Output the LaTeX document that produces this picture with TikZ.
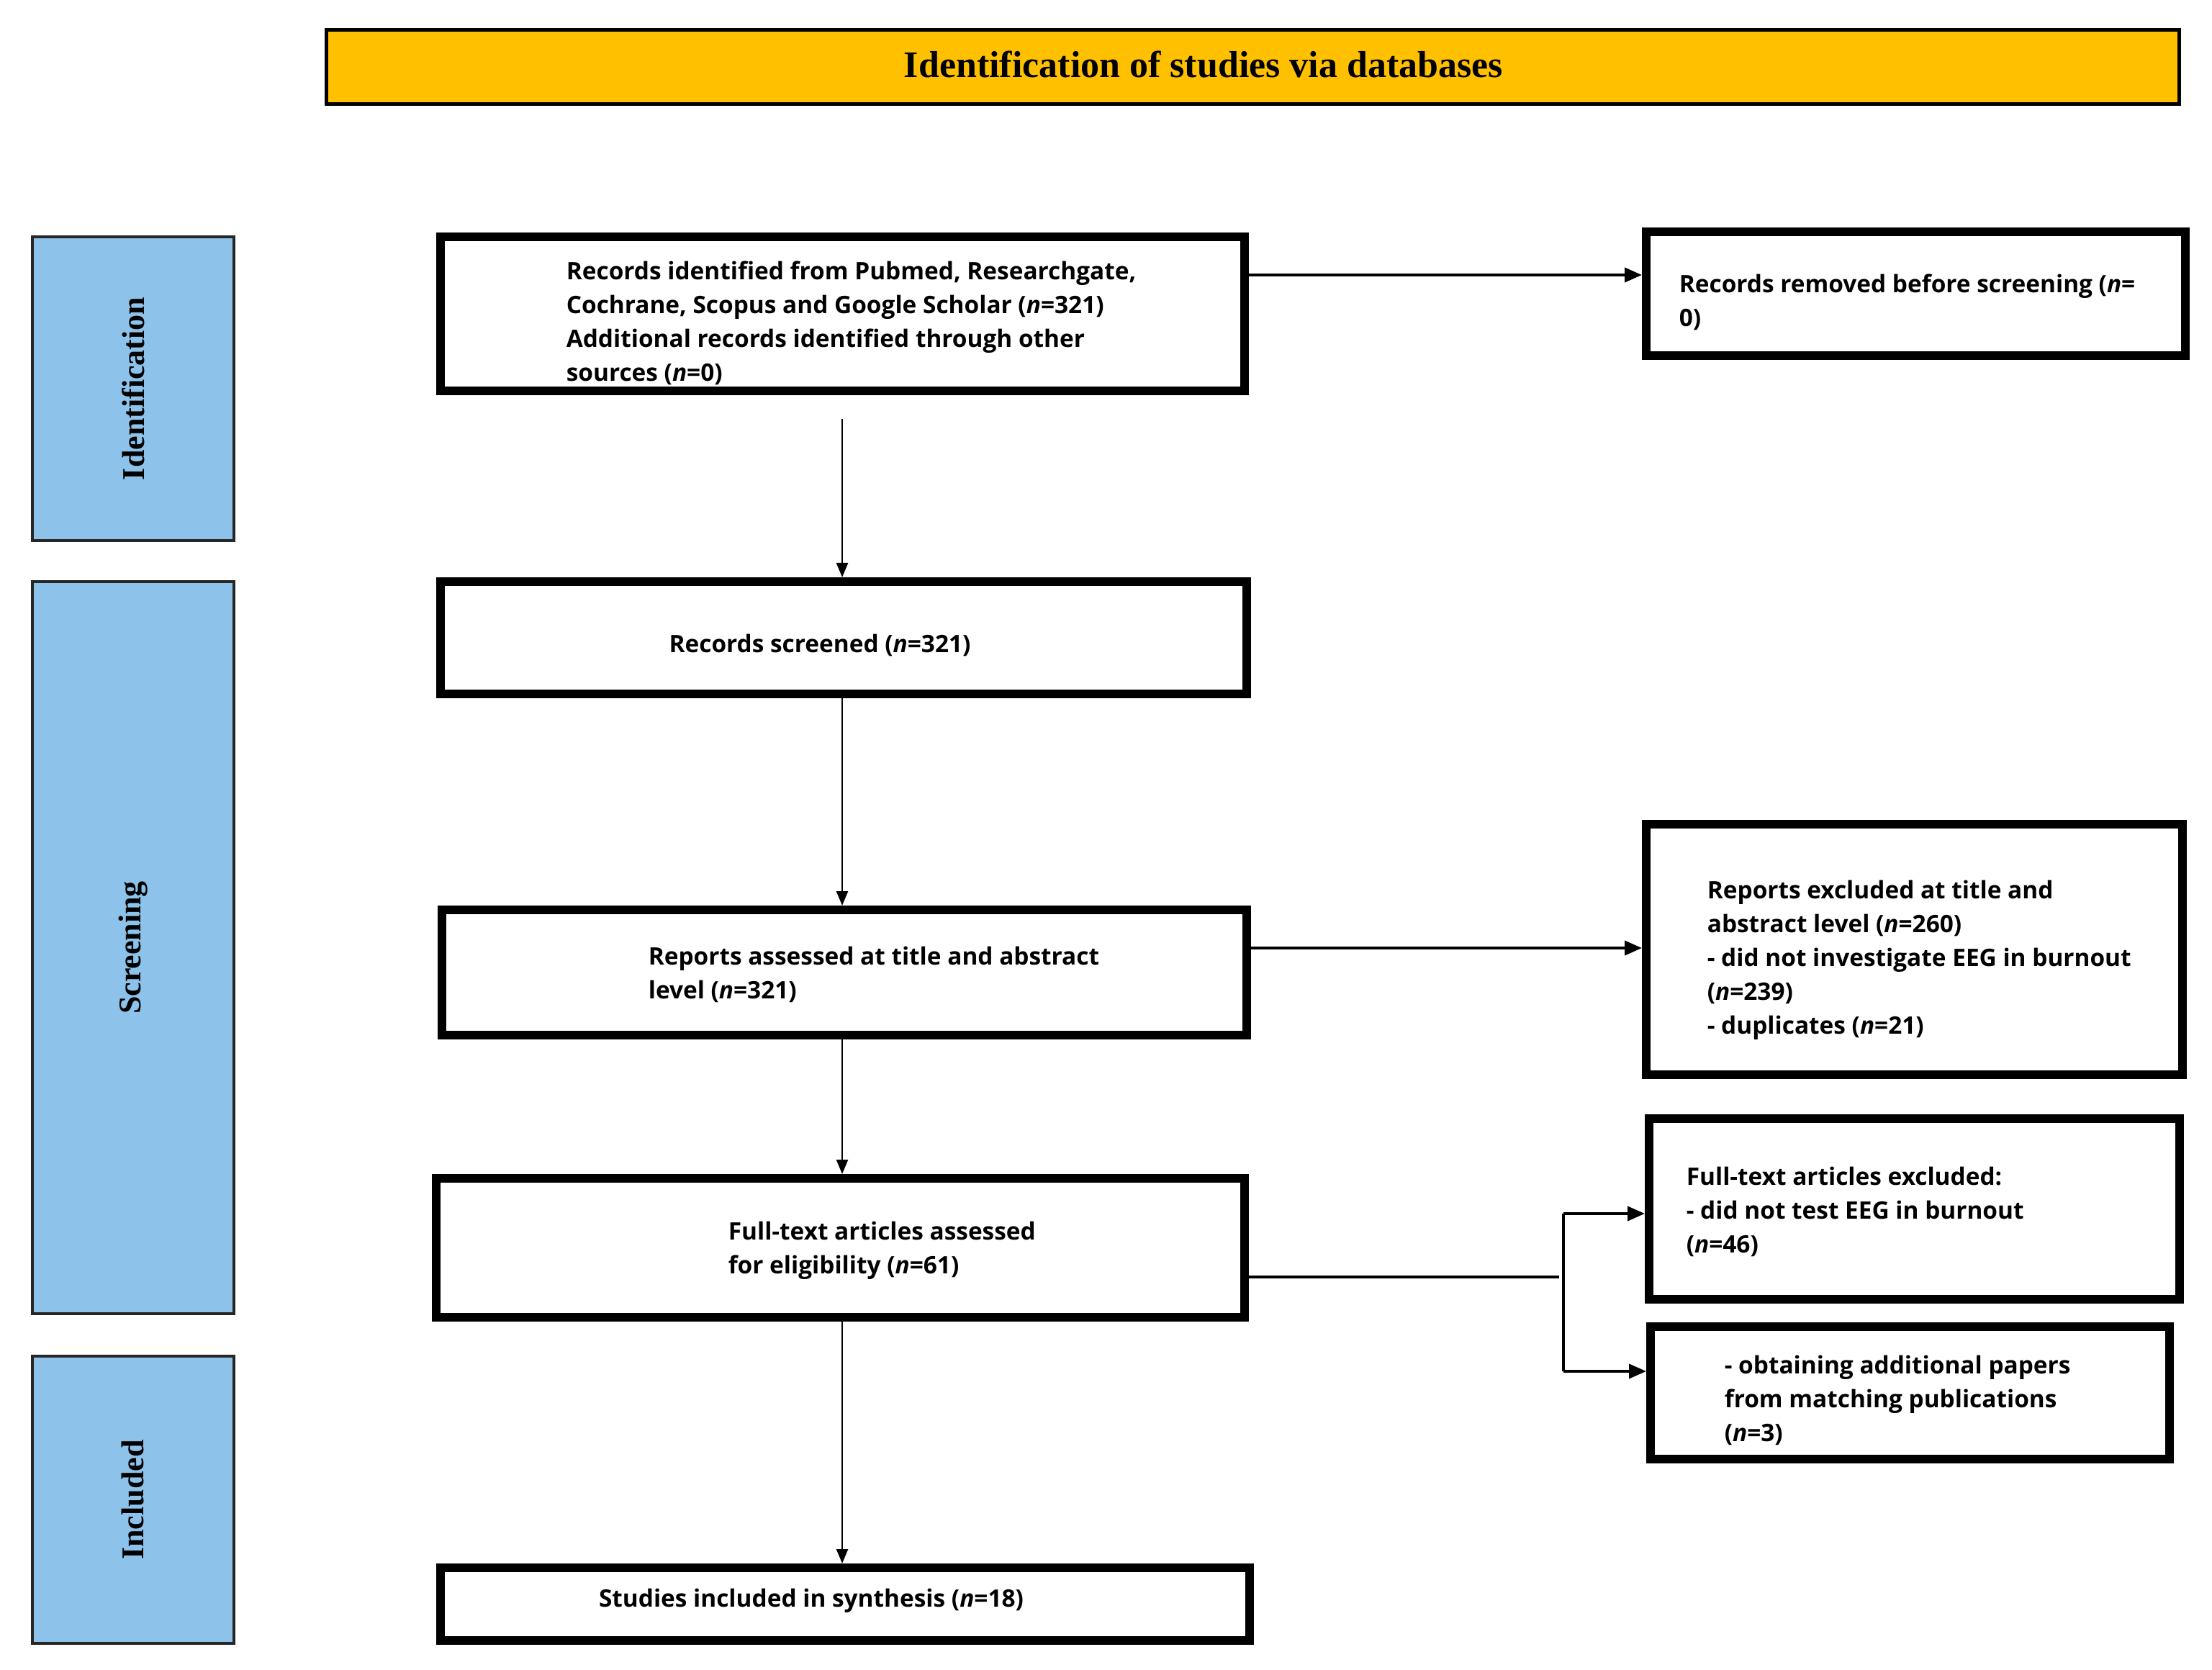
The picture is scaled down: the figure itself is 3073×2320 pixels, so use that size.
\documentclass[tikz,border=0pt]{standalone}
\usepackage{fontspec}
\setmainfont{Liberation Serif}
\newfontfamily\bodyfont{Open Sans}
\usetikzlibrary{arrows.meta}
\definecolor{titlefill}{RGB}{255,192,0}
\definecolor{sidefill}{RGB}{141,195,235}
\tikzset{
  thickbox/.style 2 args={draw=black, line width=3pt, fill=white, inner sep=0pt,
    minimum width=#1*0.25pt-3pt, minimum height=#2*0.25pt-3pt},
  sidebox/.style 2 args={draw=black!85, line width=1pt, fill=sidefill, inner sep=0pt,
    minimum width=#1*0.25pt-1pt, minimum height=#2*0.25pt-1pt},
  titlebox/.style 2 args={draw=black, line width=1.2pt, fill=titlefill, inner sep=0pt,
    minimum width=#1*0.25pt-1.2pt, minimum height=#2*0.25pt-1.2pt},
  sidelabel/.style={rotate=90, inner sep=0pt, font=\fontsize{11pt}{13pt}\selectfont\bfseries},
  titletxt/.style={inner sep=0pt, font=\fontsize{13pt}{15pt}\selectfont\bfseries},
  boxtext/.style={anchor=north west, align=left, inner sep=0pt,
    font=\bodyfont\bfseries\fontsize{8.35pt}{11.75pt}\selectfont},
  centertext/.style={inner sep=0pt, font=\bodyfont\bfseries\fontsize{8.35pt}{11.75pt}\selectfont},
  flow/.style={line width=0.6pt, -{Triangle[length=5pt,width=4pt]}},
  sideflow/.style={line width=1pt, -{Triangle[length=6pt,width=5pt]}},
  plainline/.style={line width=1pt},
}
\begin{document}
\begin{tikzpicture}[x=0.25pt,y=-0.25pt]
\path[use as bounding box] (0,0) rectangle (3073,2320);

% title
\node[titlebox={2579}{108}] (title) at (1740.5,93) {};
\node[titletxt] (titletext) at (1672,90) {Identification of studies via databases};

% side boxes
\node[sidebox={284}{426}] (sideid) at (185,540) {};
\node[sidelabel] (sideidtxt) at (185,540) {Identification};
\node[sidebox={284}{1021}] (sidescr) at (185,1316.5) {};
\node[sidelabel] (sidescrtxt) at (185,1316.5) {Screening};
\node[sidebox={284}{403}] (sideinc) at (185,2083.5) {};
\node[sidelabel] (sideinctxt) at (185,2083.5) {Included};

% main column
\node[thickbox={1129}{226}] (b1) at (1170.5,436) {};
\node[boxtext] (b1t) at (786,362) {Records identified from Pubmed, Researchgate,\\
Cochrane, Scopus and Google Scholar (\textit{n}=321)\\
Additional records identified through other\\
sources (\textit{n}=0)};

\node[thickbox={1132}{168}] (b2) at (1172,886) {};
\node[centertext] (b2t) at (1139,896) {Records screened (\textit{n}=321)};

\node[thickbox={1130}{186}] (b3) at (1173,1351) {};
\node[boxtext] (b3t) at (900,1314) {Reports assessed at title and abstract\\
level (\textit{n}=321)};

\node[thickbox={1135}{205}] (b4) at (1167.5,1733.5) {};
\node[boxtext] (b4t) at (1011,1696) {Full-text articles assessed\\
for eligibility (\textit{n}=61)};

\node[thickbox={1136}{113}] (b5) at (1174,2228.5) {};
\node[centertext] (b5t) at (1127,2224) {Studies included in synthesis (\textit{n}=18)};

% right column
\node[thickbox={761}{184}] (r1) at (2661.5,408) {};
\node[boxtext] (r1t) at (2332,380) {Records removed before screening (\textit{n}=\\
0)};

\node[thickbox={757}{360}] (r2) at (2659.5,1319) {};
\node[boxtext] (r2t) at (2371,1222) {Reports excluded at title and\\
abstract level (\textit{n}=260)\\
- did not investigate EEG in burnout\\
(\textit{n}=239)\\
- duplicates (\textit{n}=21)};

\node[thickbox={749}{263}] (r3) at (2659.5,1679.5) {};
\node[boxtext] (r3t) at (2342,1620) {Full-text articles excluded:\\
- did not test EEG in burnout\\
(\textit{n}=46)};

\node[thickbox={733}{196}] (r4) at (2653.5,1935) {};
\node[boxtext] (r4t) at (2395,1882) {- obtaining additional papers\\
from matching publications\\
(\textit{n}=3)};

% connectors
\coordinate (s1) at (1170,582);
\draw[flow] (s1) -- (s1 |- b2.north);
\draw[flow] (b2.south -| s1) -- (b3.north -| s1);
\draw[flow] (b3.south -| s1) -- (b4.north -| s1);
\draw[flow] (b4.south -| s1) -- (b5.north -| s1);

\coordinate (h1) at (1735,382);
\draw[sideflow] (b1.east |- h1) -- (r1.west |- h1);
\coordinate (h2) at (1735,1317);
\draw[sideflow] (b3.east |- h2) -- (r2.west |- h2);

\coordinate (h3) at (2166,1774);
\coordinate (bt) at (2172,1686);
\coordinate (bb) at (2172,1905);
\draw[plainline] (b4.east |- h3) -- (h3);
\draw[plainline] (bt) -- (bb);
\draw[sideflow] (bt) -- (r3.west |- bt);
\draw[sideflow] (bb) -- (r4.west |- bb);
\end{tikzpicture}
\end{document}
